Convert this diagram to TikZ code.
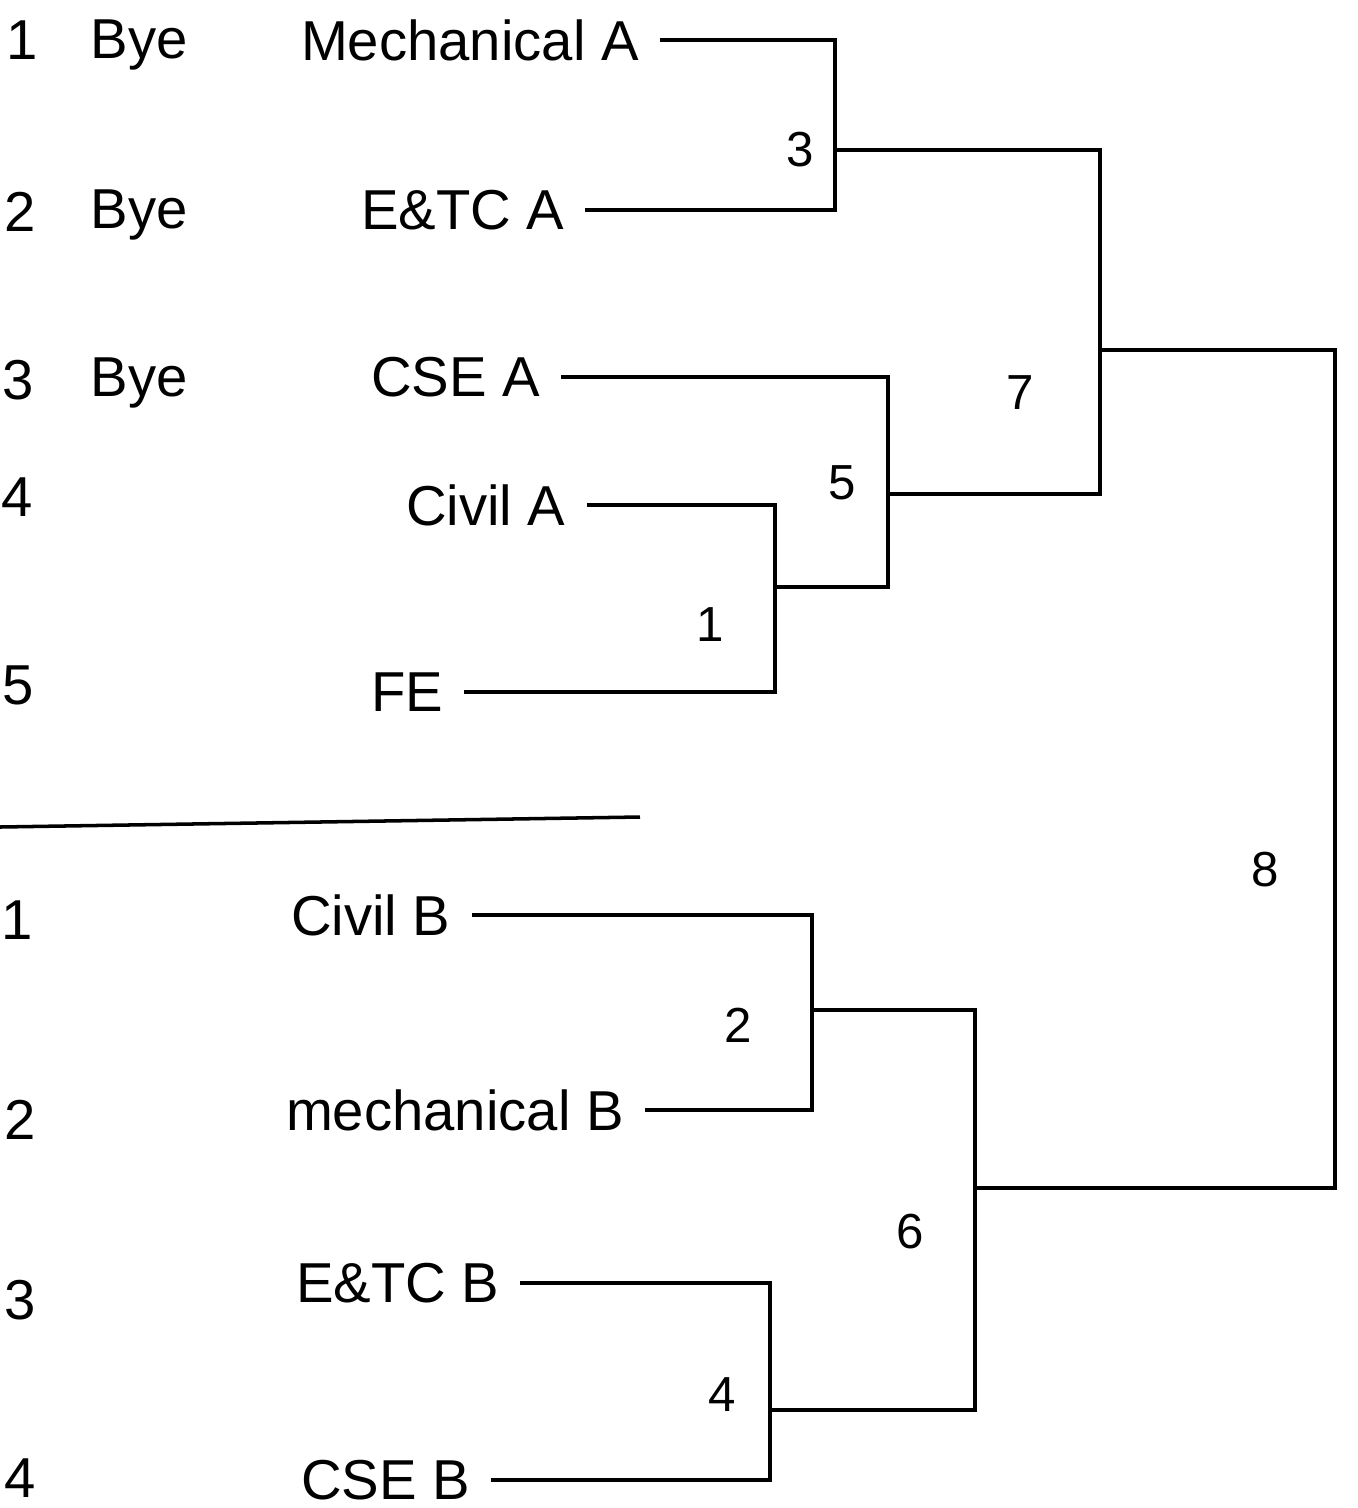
\documentclass[tikz,border=0pt]{standalone}
\usepackage{fontspec}
\setmainfont{Liberation Sans}
\usepackage{tikz}
\usetikzlibrary{positioning}

\begin{document}
\begin{tikzpicture}[x=0.01cm, y=-0.01cm,
  font=\fontsize{16}{19}\selectfont,
  seed/.style={inner sep=0pt},
  bye/.style={anchor=west, inner sep=0pt},
  team/.style={anchor=west, inner sep=0pt, outer xsep=6pt},
  rnd/.style={inner sep=0pt, font=\fontsize{14}{17}\selectfont},
  ln/.style={line width=1pt}]
  \useasboundingbox[fill=white] (0,0) rectangle (1358,1508);
  % pool A
  \node[seed] (sa1) at (22,40)  {1};
  \node[seed] (sa2) at (20,212) {2};
  \node[seed] (sa3) at (18,380) {3};
  \node[seed] (sa4) at (17,497) {4};
  \node[seed] (sa5) at (18,685) {5};
  \node[bye] (bye1) at (90,45)  {Bye};
  \node[bye] (bye2) at (90,215) {Bye};
  \node[bye] (bye3) at (90,383) {Bye};
  \node[team] (mechA) at (280,40)  {Mechanical A};
  \node[team] (etcA)  at (340,210) {E\&TC A};
  \node[team] (cseA)  at (350,377) {CSE A};
  \node[team] (civA)  at (385,505) {Civil A};
  \node[team] (feA)   at (350,692) {FE};
  \coordinate (sepL) at (0,827);
  \coordinate (sepR) at (640,817);
  \draw[ln] (sepL) -- (sepR);
  % pool B
  \node[seed] (sb1) at (17,920)  {1};
  \node[seed] (sb2) at (20,1120) {2};
  \node[seed] (sb3) at (20,1300) {3};
  \node[seed] (sb4) at (20,1478) {4};
  \node[team] (civB)  at (270,915)  {Civil B};
  \node[team] (mechB) at (265,1110) {mechanical B};
  \node[team] (etcB)  at (275,1283) {E\&TC B};
  \node[team] (cseB)  at (280,1480) {CSE B};
  % match points
  \coordinate (m1) at (775,587);
  \coordinate (m3) at (835,150);
  \coordinate (m5) at (888,494);
  \coordinate (m7) at (1100,350);
  \coordinate (m2) at (812,1010);
  \coordinate (m4) at (770,1410);
  \coordinate (m6) at (975,1188);
  \coordinate (m8) at (1335,760);
  \node[rnd] (r1) at (710,625)  {1};
  \node[rnd] (r2) at (738,1025) {2};
  \node[rnd] (r3) at (800,150)  {3};
  \node[rnd] (r4) at (722,1395) {4};
  \node[rnd] (r5) at (842,483)  {5};
  \node[rnd] (r6) at (910,1232) {6};
  \node[rnd] (r7) at (1020,393) {7};
  \node[rnd] (r8) at (1265,870) {8};
  % brackets
  \draw[ln] (mechA) -| (m3) |- (etcA);
  \draw[ln] (civA) -| (m1) |- (feA);
  \draw[ln] (cseA) -| (m5) |- (m1);
  \draw[ln] (m3) -| (m7) |- (m5);
  \draw[ln] (civB) -| (m2) |- (mechB);
  \draw[ln] (etcB) -| (m4) |- (cseB);
  \draw[ln] (m2) -| (m6) |- (m4);
  \draw[ln] (m7) -| (m8) |- (m6);
\end{tikzpicture}
\end{document}
